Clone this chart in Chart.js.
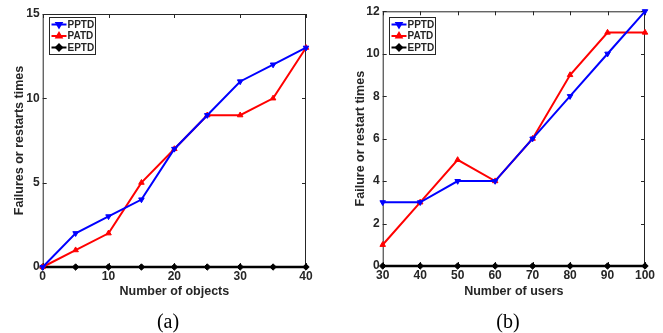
<!DOCTYPE html>
<html>
<head>
<meta charset="utf-8">
<script src="https://cdn.jsdelivr.net/npm/chart.js@4/dist/chart.umd.min.js"></script>
<style>
  html, body { margin: 0; padding: 0; background: #fff; overflow: hidden; }
  #wrapA { position: absolute; left: 0; top: 0; width: 330px; height: 333px; }
  #wrapB { position: absolute; left: 330px; top: 0; width: 333px; height: 333px; }
</style>
</head>
<body>
<div id="wrapA"><canvas id="chartA" width="330" height="333"></canvas></div>
<div id="wrapB"><canvas id="chartB" width="333" height="333"></canvas></div>
<script>
// ----------------- Data -----------------
const objects = [0, 5, 10, 15, 20, 25, 30, 35, 40];
const pptdObjects = [0, 2, 3, 4, 7, 9, 11, 12, 13];
const patdObjects = [0, 1, 2, 5, 7, 9, 9, 10, 13];
const eptdObjects = [0, 0, 0, 0, 0, 0, 0, 0, 0];
const objectTicks = [0, 10, 20, 30, 40];
const failureTicks = [0, 5, 10, 15];

const users = [30, 40, 50, 60, 70, 80, 90, 100];
const pptdUsers = [3, 3, 4, 4, 6, 8, 10, 12];
const patdUsers = [1, 3, 5, 4, 6, 9, 11, 11];
const eptdUsers = [0, 0, 0, 0, 0, 0, 0, 0];
const userTicks = [30, 40, 50, 60, 70, 80, 90, 100];
const restartTicks = [0, 2, 4, 6, 8, 10, 12];

// ----------------- Helpers -----------------
const INK = "#262626";
const SANS = "'Liberation Sans', Arial, Helvetica, sans-serif";

function toPoints(xs, ys) {
  return xs.map((x, i) => ({ x, y: ys[i] }));
}

function series(label, xs, ys, color, style, rotation) {
  return {
    label,
    data: toPoints(xs, ys),
    borderColor: color,
    backgroundColor: color,
    borderWidth: label === "EPTD" ? 2.5 : 2,
    pointStyle: style,
    pointRotation: rotation,
    pointRadius: 3.2,
    pointBorderWidth: 1,
    tension: 0,
    clip: false
  };
}

function marker(ctx, style, rotation, x, y, r) {
  if (Chart.helpers && Chart.helpers.drawPoint) {
    Chart.helpers.drawPoint(ctx, { pointStyle: style, rotation, radius: r, borderWidth: 1 }, x, y);
    ctx.fill();
    return;
  }
  ctx.beginPath();
  ctx.arc(x, y, r, 0, Math.PI * 2);
  ctx.fill();
}

// box round the plot with inward tick marks (MATLAB style)
const boxPlugin = {
  id: "box",
  beforeDatasetsDraw(chart) {
    const { ctx, chartArea: a, scales } = chart;
    ctx.save();
    ctx.strokeStyle = INK;
    ctx.lineWidth = 1;
    ctx.strokeRect(a.left + 0.5, a.top + 0.5, a.right - a.left - 1, a.bottom - a.top - 1);
    ctx.beginPath();
    scales.x.ticks.forEach(t => {
      const px = Math.round(scales.x.getPixelForValue(t.value)) + 0.5;
      ctx.moveTo(px, a.bottom); ctx.lineTo(px, a.bottom - 4);
      ctx.moveTo(px, a.top); ctx.lineTo(px, a.top + 4);
    });
    scales.y.ticks.forEach(t => {
      const py = Math.round(scales.y.getPixelForValue(t.value)) + 0.5;
      ctx.moveTo(a.left, py); ctx.lineTo(a.left + 4, py);
      ctx.moveTo(a.right, py); ctx.lineTo(a.right - 4, py);
    });
    ctx.stroke();
    ctx.restore();
  }
};

// legend drawn inside the top-left corner of the plot
const insideLegend = {
  id: "insideLegend",
  afterDraw(chart) {
    const { ctx, chartArea: a } = chart;
    const x0 = Math.round(a.left + 6) + 0.5;
    const y0 = 17.5;
    const rowH = 11.5;
    ctx.save();
    ctx.fillStyle = "#fff";
    ctx.fillRect(x0, y0, 46, 37);
    ctx.strokeStyle = INK;
    ctx.lineWidth = 1;
    ctx.strokeRect(x0, y0, 46, 37);
    ctx.font = "bold 10px " + SANS;
    ctx.textBaseline = "middle";
    chart.data.datasets.forEach((ds, i) => {
      const y = y0 + 7 + i * rowH;
      ctx.strokeStyle = ds.borderColor;
      ctx.fillStyle = ds.borderColor;
      ctx.lineWidth = 2;
      ctx.beginPath();
      ctx.moveTo(x0 + 2, y); ctx.lineTo(x0 + 17, y);
      ctx.stroke();
      marker(ctx, ds.pointStyle, ds.pointRotation || 0, x0 + 9.5, y, 3);
      ctx.fillStyle = INK;
      ctx.fillText(ds.label, x0 + 18, y + 0.5);
    });
    ctx.restore();
  }
};

function buildChart(id, cfg) {
  const tickFont = { family: SANS, size: 12, weight: "bold" };
  const titleFont = { family: SANS, size: 12.5, weight: "bold", lineHeight: 1.2 };
  const hidden = size => ({
    display: true,
    grid: { display: false },
    border: { display: false },
    ticks: { display: false }
  });
  return new Chart(document.getElementById(id), {
    type: "line",
    data: {
      datasets: [
        series("PPTD", cfg.xs, cfg.pptd, "#0000ff", "triangle", 180),
        series("PATD", cfg.xs, cfg.patd, "#ff0000", "triangle", 0),
        series("EPTD", cfg.xs, cfg.eptd, "#000000", "rectRot", 0)
      ]
    },
    options: {
      responsive: false,
      animation: false,
      devicePixelRatio: 1,
      layout: { padding: { left: cfg.padLeft, right: 0, top: 0, bottom: 0 } },
      plugins: {
        legend: { display: false },
        tooltip: { enabled: false },
        title: {
          display: true,
          position: "bottom",
          text: cfg.caption,
          color: "#000",
          font: { family: "'Liberation Serif', 'Times New Roman', serif", size: 20, weight: "normal", lineHeight: 1 },
          padding: { top: 13, bottom: 0 }
        }
      },
      scales: {
        x: {
          type: "linear",
          position: "bottom",
          min: cfg.xTicks[0],
          max: cfg.xTicks[cfg.xTicks.length - 1],
          afterBuildTicks: s => { s.ticks = cfg.xTicks.map(v => ({ value: v })); },
          afterFit: s => { s.height = cfg.xHeight; },
          grid: { display: false, drawTicks: false },
          border: { display: false },
          ticks: { font: tickFont, color: INK, padding: 2.5, maxRotation: 0, autoSkip: false },
          title: { display: true, text: cfg.xTitle, font: titleFont, color: INK, padding: { top: 0, bottom: 1 } }
        },
        y: {
          type: "linear",
          position: "left",
          min: cfg.yTicks[0],
          max: cfg.yTicks[cfg.yTicks.length - 1],
          afterBuildTicks: s => { s.ticks = cfg.yTicks.map(v => ({ value: v })); },
          afterFit: s => { s.width = cfg.yWidth; },
          grid: { display: false, drawTicks: false },
          border: { display: false },
          ticks: { font: tickFont, color: INK, padding: 3 },
          title: { display: true, text: cfg.yTitle, font: titleFont, color: INK, padding: { top: cfg.yTitlePad, bottom: 0 } }
        },
        x2: Object.assign(hidden(), { type: "linear", position: "top", afterFit: s => { s.height = cfg.topHeight; } }),
        y2: Object.assign(hidden(), { type: "linear", position: "right", afterFit: s => { s.width = cfg.rightWidth; } })
      }
    },
    plugins: [boxPlugin, insideLegend]
  });
}

// ----------------- Init -----------------
buildChart("chartA", {
  xs: objects, pptd: pptdObjects, patd: patdObjects, eptd: eptdObjects,
  xTicks: objectTicks, yTicks: failureTicks,
  xTitle: "Number of objects", yTitle: "Failures or restarts times", caption: "(a)",
  padLeft: 6, yWidth: 36.7, yTitlePad: 6.5, xHeight: 33, topHeight: 14, rightWidth: 24
});

buildChart("chartB", {
  xs: users, pptd: pptdUsers, patd: patdUsers, eptd: eptdUsers,
  xTicks: userTicks, yTicks: restartTicks,
  xTitle: "Number of users", yTitle: "Failure or restart times", caption: "(b)",
  padLeft: 23, yWidth: 29.7, yTitlePad: 0, xHeight: 34, topHeight: 11.3, rightWidth: 18
});
</script>
</body>
</html>
